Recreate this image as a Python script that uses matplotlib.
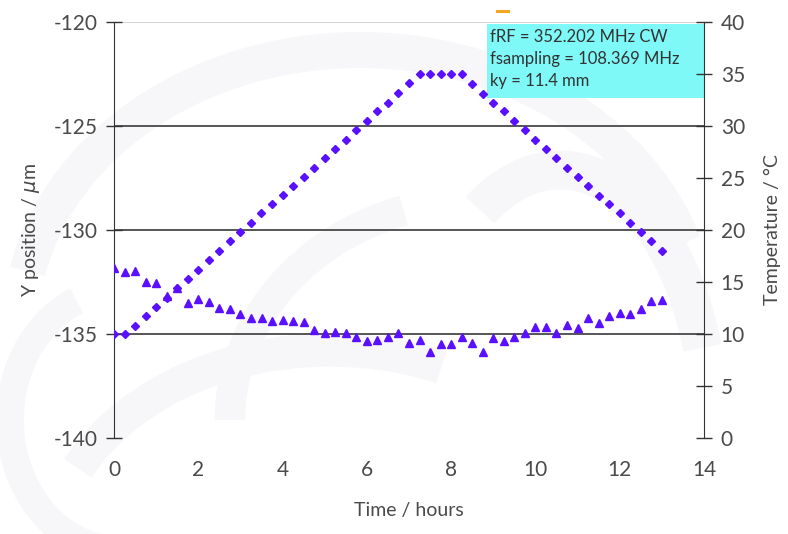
import matplotlib as mpl
mpl.use('Agg')
import matplotlib.pyplot as plt
from matplotlib.patches import Arc, Rectangle

plt.rcParams['font.family'] = ['Lato', 'DejaVu Sans']
plt.rcParams['mathtext.fontset'] = 'dejavusans'
plt.rcParams['axes.unicode_minus'] = False

# sample times, one reading every quarter hour
hours = [0.0, 0.25, 0.5, 0.75, 1.0, 1.25, 1.5, 1.75, 2.0, 2.25, 2.5, 2.75,
         3.0, 3.25, 3.5, 3.75, 4.0, 4.25, 4.5, 4.75, 5.0, 5.25, 5.5, 5.75,
         6.0, 6.25, 6.5, 6.75, 7.0, 7.25, 7.5, 7.75, 8.0, 8.25, 8.5, 8.75,
         9.0, 9.25, 9.5, 9.75, 10.0, 10.25, 10.5, 10.75, 11.0, 11.25, 11.5,
         11.75, 12.0, 12.25, 12.5, 12.75, 13.0]

# beam y position (um)
y_pos = [-131.84, -132.00, -131.97, -132.48, -132.56, -133.15, -132.80,
         -133.52, -133.32, -133.48, -133.73, -133.80, -134.02, -134.22,
         -134.24, -134.36, -134.33, -134.39, -134.44, -134.79, -134.95,
         -134.92, -134.95, -135.13, -135.32, -135.30, -135.13, -134.94,
         -135.42, -135.29, -135.88, -135.50, -135.48, -135.16, -135.43,
         -135.88, -135.19, -135.32, -135.13, -134.94, -134.68, -134.65,
         -134.94, -134.57, -134.70, -134.22, -134.49, -134.12, -133.98,
         -134.05, -133.80, -133.40, -133.35]

# temperature (deg C)
temp = [10.0, 10.0, 10.8, 11.7, 12.6, 13.5, 14.4, 15.3, 16.2, 17.1, 18.0,
        18.9, 19.8, 20.7, 21.6, 22.5, 23.4, 24.2, 25.1, 26.0, 26.9, 27.8,
        28.7, 29.6, 30.5, 31.4, 32.2, 33.2, 34.1, 35.0, 35.0, 35.0, 35.0,
        35.0, 34.0, 33.1, 32.2, 31.4, 30.5, 29.6, 28.7, 27.8, 26.9, 26.0,
        25.1, 24.2, 23.3, 22.5, 21.6, 20.7, 19.8, 18.9, 18.0]

info_lines = ['fRF = 352.202 MHz CW', 'fsampling = 108.369 MHz', 'ky = 11.4 mm']

mark_col = '#5a10ff'
text_col = '#4a4a4a'

fig = plt.figure(figsize=(7.88, 5.34), dpi=100)

# faint background swirl, drawn in pixel units
bg = fig.add_axes([0, 0, 1, 1], zorder=-5)
bg.set_xlim(0, 788)
bg.set_ylim(534, 0)
bg.axis('off')
swirl = '#f7f7f9'
bg.add_patch(Arc((360, 330), 680, 560, theta1=190, theta2=345, lw=26, color=swirl))
bg.add_patch(Arc((330, 560), 560, 420, theta1=200, theta2=300, lw=24, color=swirl))
bg.add_patch(Arc((480, 420), 500, 440, theta1=180, theta2=250, lw=22, color=swirl))
bg.add_patch(Arc((560, 430), 300, 520, theta1=250, theta2=330, lw=28, color=swirl))
bg.add_patch(Arc((120, 420), 220, 260, theta1=100, theta2=250, lw=20, color=swirl))
bg.plot([497, 508], [11, 11], color='#f5a623', lw=2.2)

ax = fig.add_axes([114 / 788, 1 - 438 / 534, 590 / 788, 416 / 534])
ax.set_facecolor('none')
ax2 = ax.twinx()

ax.plot(hours, y_pos, linestyle='none', marker='^', ms=6, color=mark_col, zorder=3)
ax2.plot(hours, temp, linestyle='none', marker='D', ms=4.5, color=mark_col, zorder=4)

ax.set_xlim(0, 14)
ax.set_ylim(-140, -120)
ax2.set_ylim(0, 40)
ax.set_xticks(range(0, 15, 2))
ax.set_yticks(range(-140, -119, 5))
ax2.set_yticks(range(0, 41, 5))

for y in (-135, -130, -125):
    ax.axhline(y, color='#555555', lw=1.4, zorder=1)
ax.axhline(-120, color='#cccccc', lw=1.2, zorder=1)

for a in (ax, ax2):
    for s in ('top', 'bottom'):
        a.spines[s].set_visible(False)
ax2.spines['left'].set_visible(False)
ax.spines['right'].set_visible(False)
ax.spines['left'].set_color('#333333')
ax2.spines['right'].set_color('#333333')

ax.tick_params(axis='y', direction='inout', length=12, width=1, colors='#333333',
               labelcolor=text_col, labelsize=15, pad=6)
ax2.tick_params(axis='y', direction='inout', length=12, width=1, colors='#333333',
                labelcolor=text_col, labelsize=15, pad=6)
ax.tick_params(axis='x', length=0, labelcolor=text_col, labelsize=15, pad=16)

ax.set_xlabel('Time / hours', fontsize=14, color=text_col, labelpad=16)
ax.set_ylabel(r'Y position / $\mu$m', fontsize=14, color=text_col, labelpad=8)
ax2.set_ylabel('Temperature / \u00b0C', fontsize=14, color=text_col, labelpad=14)

# info box in the upper right corner
ax.add_patch(Rectangle((0.632, 0.817), 0.368, 0.178, transform=ax.transAxes,
                       facecolor='#7ff8f8', edgecolor='none', zorder=5))
for k, line in enumerate(info_lines):
    ax.text(0.637, 0.963 - k * 0.053, line, transform=ax.transAxes, fontsize=12,
            color='#333333', va='center', ha='left', zorder=6)

fig.savefig('out.png', dpi=100)
